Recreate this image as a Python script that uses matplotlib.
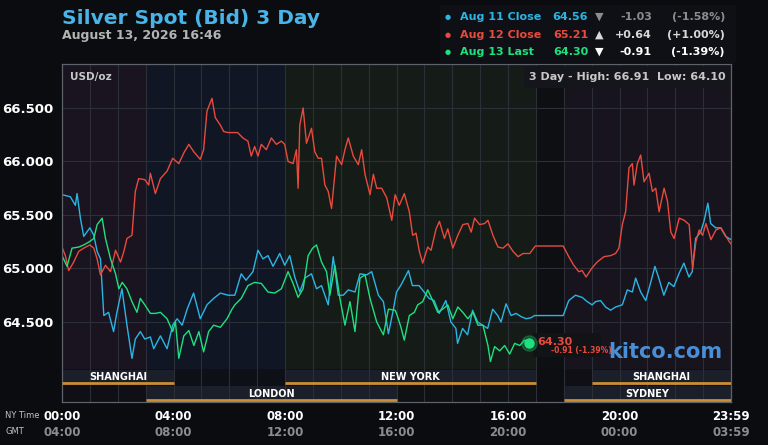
import matplotlib
matplotlib.use("Agg")
import matplotlib.pyplot as plt
from matplotlib.patches import Rectangle

# ---- data (NY time in hours, price in USD/oz) ----
aug11_hours = [0, 0.3, 0.48, 0.54, 0.66, 0.78, 1.0, 1.14, 1.26, 1.38, 1.5, 1.67, 1.85, 1.97,
               2.15, 2.33, 2.51, 2.63, 2.81, 2.97, 3.17, 3.29, 3.53, 3.77, 3.97, 4.13, 4.31,
               4.49, 4.72, 4.96, 5.2, 5.44, 5.68, 5.96, 6.2, 6.43, 6.6, 6.85, 7.03, 7.21, 7.39,
               7.57, 7.81, 7.99, 8.17, 8.35, 8.53, 8.71, 8.95, 9.13, 9.31, 9.55, 9.73, 9.91,
               10.09, 10.27, 10.51, 10.69, 10.93, 11.11, 11.35, 11.53, 11.71, 11.89, 12.0,
               12.15, 12.43, 12.57, 12.81, 12.99, 13.17, 13.35, 13.53, 13.77, 13.95, 14.13,
               14.19, 14.37, 14.55, 14.73, 14.91, 15.09, 15.27, 15.45, 15.63, 15.75, 15.93,
               16.11, 16.29, 16.47, 16.65, 16.83, 16.95, 17.98, 18.18, 18.42, 18.66, 18.84,
               19.02, 19.14, 19.32, 19.5, 19.68, 19.86, 20.1, 20.28, 20.46, 20.58, 20.76,
               20.94, 21.12, 21.27, 21.41, 21.59, 21.77, 21.95, 22.13, 22.31, 22.49, 22.61,
               22.73, 22.91, 23.03, 23.17, 23.27, 23.45, 23.63, 23.81, 23.93, 24.0]
aug11_price = [65.69, 65.67, 65.59, 65.70, 65.47, 65.30, 65.38, 65.31, 65.16, 65.09, 64.56, 64.59,
               64.41, 64.59, 64.81, 64.47, 64.16, 64.34, 64.41, 64.34, 64.36, 64.25, 64.37, 64.25,
               64.47, 64.53, 64.47, 64.62, 64.77, 64.53, 64.66, 64.72, 64.77, 64.75, 64.75, 64.95,
               64.89, 64.97, 65.17, 65.09, 65.12, 65.02, 65.14, 65.03, 65.12, 64.92, 64.78, 64.91,
               64.95, 64.81, 64.84, 64.66, 65.11, 64.75, 64.75, 64.80, 64.78, 64.95, 64.94, 64.97,
               64.75, 64.69, 64.39, 64.62, 64.78, 64.84, 64.98, 64.84, 64.84, 64.78, 64.72, 64.70,
               64.58, 64.70, 64.50, 64.44, 64.30, 64.44, 64.38, 64.61, 64.50, 64.47, 64.44, 64.62,
               64.56, 64.50, 64.67, 64.56, 64.58, 64.55, 64.53, 64.54, 64.56, 64.56, 64.70, 64.75,
               64.73, 64.69, 64.66, 64.69, 64.70, 64.64, 64.61, 64.64, 64.66, 64.80, 64.78, 64.91,
               64.78, 64.70, 64.87, 65.02, 64.91, 64.75, 64.87, 64.83, 64.95, 65.05, 64.92, 64.97,
               65.28, 65.34, 65.44, 65.61, 65.42, 65.38, 65.38, 65.30, 65.28, 65.27]

aug12_hours = [0, 0.12, 0.24, 0.42, 0.6, 0.78, 1.0, 1.14, 1.26, 1.38, 1.56, 1.74, 1.92, 2.1, 2.22,
               2.33, 2.51, 2.63, 2.75, 2.97, 3.11, 3.17, 3.35, 3.53, 3.77, 3.97, 4.19, 4.37, 4.55,
               4.73, 4.96, 5.08, 5.2, 5.38, 5.5, 5.68, 5.8, 5.96, 6.3, 6.49, 6.67, 6.79, 6.91,
               7.03, 7.15, 7.33, 7.51, 7.69, 7.87, 7.99, 8.11, 8.29, 8.41, 8.47, 8.53, 8.65, 8.77,
               8.95, 9.07, 9.19, 9.31, 9.43, 9.55, 9.67, 9.85, 10.03, 10.15, 10.27, 10.45, 10.63,
               10.75, 10.87, 11.05, 11.17, 11.29, 11.47, 11.65, 11.83, 11.95, 12.1, 12.28, 12.46,
               12.58, 12.7, 12.82, 12.94, 13.12, 13.24, 13.42, 13.54, 13.72, 13.84, 14.02, 14.2,
               14.38, 14.56, 14.68, 14.8, 14.98, 15.16, 15.28, 15.46, 15.64, 15.82, 16.0, 16.18,
               16.36, 16.54, 16.78, 16.98, 17.98, 18.18, 18.36, 18.54, 18.66, 18.8, 19.0, 19.2,
               19.44, 19.68, 19.86, 19.98, 20.1, 20.22, 20.34, 20.46, 20.52, 20.64, 20.76, 20.88,
               21.06, 21.18, 21.3, 21.42, 21.6, 21.72, 21.84, 21.96, 22.14, 22.32, 22.5, 22.62,
               22.74, 22.86, 22.98, 23.1, 23.28, 23.46, 23.64, 23.82, 23.94, 24.0]
aug12_price = [65.20, 65.12, 64.98, 65.06, 65.16, 65.19, 65.22, 65.19, 65.09, 64.94, 65.03, 64.97,
               65.17, 65.06, 65.16, 65.28, 65.31, 65.72, 65.84, 65.83, 65.78, 65.89, 65.70, 65.84,
               65.91, 66.03, 65.98, 66.08, 66.16, 66.09, 66.02, 66.11, 66.47, 66.59, 66.41, 66.34,
               66.28, 66.27, 66.27, 66.22, 66.19, 66.05, 66.14, 66.05, 66.16, 66.11, 66.22, 66.16,
               66.19, 66.16, 66.00, 65.98, 66.11, 65.75, 66.34, 66.50, 66.17, 66.31, 66.09, 66.03,
               66.03, 65.78, 65.72, 65.56, 66.05, 65.97, 66.11, 66.22, 66.05, 65.97, 66.11, 65.88,
               65.69, 65.88, 65.75, 65.75, 65.66, 65.45, 65.69, 65.59, 65.70, 65.53, 65.31, 65.33,
               65.16, 65.05, 65.20, 65.17, 65.37, 65.44, 65.28, 65.37, 65.19, 65.31, 65.41, 65.42,
               65.34, 65.47, 65.41, 65.42, 65.45, 65.31, 65.20, 65.19, 65.23, 65.16, 65.11, 65.14,
               65.14, 65.21, 65.21, 65.11, 65.03, 64.97, 64.98, 64.92, 65.00, 65.06, 65.11, 65.12,
               65.14, 65.19, 65.41, 65.53, 65.94, 65.98, 65.78, 65.98, 66.06, 65.81, 65.89, 65.72,
               65.75, 65.53, 65.75, 65.63, 65.34, 65.28, 65.47, 65.45, 65.41, 65.00, 65.25, 65.36,
               65.31, 65.42, 65.27, 65.36, 65.38, 65.30, 65.25, 65.23]

aug13_hours = [0, 0.18, 0.36, 0.6, 0.78, 0.98, 1.14, 1.26, 1.44, 1.56, 1.74, 1.92, 2.04, 2.16,
               2.33, 2.51, 2.69, 2.81, 2.97, 3.17, 3.35, 3.53, 3.77, 3.97, 4.07, 4.19, 4.37, 4.55,
               4.73, 4.91, 5.08, 5.26, 5.44, 5.68, 5.92, 6.1, 6.2, 6.43, 6.67, 6.91, 7.15, 7.39,
               7.63, 7.87, 8.11, 8.29, 8.47, 8.65, 8.83, 8.99, 9.13, 9.31, 9.49, 9.61, 9.79, 9.97,
               10.15, 10.33, 10.51, 10.69, 10.87, 11.05, 11.29, 11.53, 11.71, 11.95, 12.0, 12.16,
               12.28, 12.46, 12.64, 12.76, 12.94, 13.12, 13.3, 13.48, 13.66, 13.84, 14.02, 14.2,
               14.38, 14.56, 14.74, 14.92, 15.1, 15.28, 15.37, 15.52, 15.7, 15.88, 16.06, 16.24,
               16.42, 16.6, 16.77]
aug13_price = [65.12, 65.02, 65.19, 65.20, 65.22, 65.25, 65.28, 65.41, 65.47, 65.28, 65.09, 64.95,
               64.81, 64.87, 64.81, 64.69, 64.59, 64.72, 64.66, 64.58, 64.58, 64.59, 64.53, 64.41,
               64.50, 64.16, 64.37, 64.42, 64.28, 64.41, 64.22, 64.41, 64.47, 64.45, 64.53, 64.62,
               64.66, 64.72, 64.84, 64.87, 64.86, 64.78, 64.77, 64.81, 64.97, 64.86, 64.73, 64.81,
               65.12, 65.19, 65.22, 65.06, 64.97, 64.75, 65.03, 64.72, 64.47, 64.69, 64.41, 64.91,
               64.94, 64.72, 64.50, 64.38, 64.62, 64.61, 64.58, 64.45, 64.33, 64.56, 64.59, 64.66,
               64.69, 64.80, 64.70, 64.59, 64.62, 64.66, 64.53, 64.64, 64.59, 64.53, 64.59, 64.47,
               64.47, 64.28, 64.13, 64.27, 64.23, 64.28, 64.20, 64.30, 64.28, 64.33, 64.30]

legend_names = ["Aug 11 Close", "Aug 12 Close", "Aug 13 Last"]
legend_prices = ["64.56", "65.21", "64.30"]
legend_arrows = ["▼", "▲", "▼"]
legend_changes = ["-1.03", "+0.64", "-0.91"]
legend_pcts = ["(-1.58%)", "(+1.00%)", "(-1.39%)"]

y_ticks = [64.5, 65.0, 65.5, 66.0, 66.5]
ny_labels = ["00:00", "04:00", "08:00", "12:00", "16:00", "20:00", "23:59"]
gmt_labels = ["04:00", "08:00", "12:00", "16:00", "20:00", "00:00", "03:59"]
label_hours = [0, 4, 8, 12, 16, 20, 24]

# background tint per market period
tint_start = [0, 3, 8, 17, 18]
tint_end = [3, 8, 17, 18, 24]
tint_colors = ["#19141f", "#111624", "#151b16", "#0e0f12", "#18141e"]

session_names = ["SHANGHAI", "NEW YORK", "SHANGHAI", "LONDON", "SYDNEY"]
session_start = [0, 8, 19, 3, 18]
session_end = [4, 17, 24, 12, 24]
session_row = [0, 0, 0, 1, 1]

BG = "#0b0c10"
BLUE = "#2bb5e4"
RED = "#e84a3e"
GREEN = "#1fe07e"
W, H = 768, 445


def fx(px):
    return px / W


def fy(py):
    return 1 - py / H


fig = plt.figure(figsize=(7.68, 4.45), dpi=100, facecolor=BG)
ax = fig.add_axes([fx(62), fy(402), 669 / W, 338 / H])
ax.set_facecolor(BG)
ax.set_xlim(0, 24)
ax.set_ylim(63.752, 66.911)

for s, e, c in zip(tint_start, tint_end, tint_colors):
    ax.axvspan(s, e, color=c, zorder=0.1, lw=0)

# session rows at the bottom
xform = ax.get_xaxis_transform()
ax.add_patch(Rectangle((0, 0), 24, 0.098, transform=xform, color="#0d0e13",
                       alpha=0.75, zorder=0.2, lw=0))
row_y = [0.051, 0.003]
for name, s, e, r in zip(session_names, session_start, session_end, session_row):
    y0 = row_y[r]
    ax.add_patch(Rectangle((s, y0), e - s, 0.044, transform=xform, color="#1b1f2a",
                           zorder=0.3, lw=0))
    ax.plot([s, e], [y0 + 0.004, y0 + 0.004], transform=xform, color="#c98f32", lw=2,
            solid_capstyle="butt", zorder=3)
    ax.text((s + e) / 2, y0 + 0.022, name, transform=xform, ha="center", va="center",
            color="white", fontsize=7, fontweight="bold", zorder=4)

ax.set_axisbelow(True)
ax.set_xticks(range(0, 25))
ax.set_yticks(y_ticks)
ax.grid(True, color="#2c2f37", lw=0.8)
ax.tick_params(axis="x", length=0, labelbottom=False)
ax.tick_params(axis="y", length=0, pad=6, labelcolor="white", labelsize=9.5)
ax.set_yticklabels([f"{v:.3f}" for v in y_ticks], fontweight="bold")
for sp in ax.spines.values():
    sp.set_color("#5e626b")
    sp.set_linewidth(0.9)

ax.plot(aug11_hours, aug11_price, color=BLUE, lw=1.0, zorder=2)
ax.plot(aug12_hours, aug12_price, color=RED, lw=1.0, zorder=2)
ax.plot(aug13_hours, aug13_price, color=GREEN, lw=1.0, zorder=2.5)

# last price marker
last_t, last_v = aug13_hours[-1], aug13_price[-1]
ax.plot(last_t, last_v, "o", color=GREEN, ms=11, alpha=0.25, zorder=3)
ax.plot(last_t, last_v, "o", color=GREEN, ms=6.5, zorder=3)
ax.add_patch(Rectangle((fx(533), fy(357)), 68 / W, 24 / H, transform=fig.transFigure,
                       color="#121317", zorder=2.8, lw=0))
fig.text(fx(537), fy(342), "64.30", color=RED, fontsize=8, fontweight="bold", va="center")
fig.text(fx(551), fy(351), "-0.91 (-1.39%)", color=RED, fontsize=5.5, fontweight="bold",
         va="center")
fig.text(fx(722), fy(352), "kitco.com", color="#4a8fd6", fontsize=15, fontweight="bold",
         ha="right", va="center")

ax.text(fx(70), fy(77), "USD/oz", transform=fig.transFigure, color="#c8c8c8", fontsize=7.5,
        fontweight="bold", va="center")
ax.add_patch(Rectangle((fx(524), fy(88)), 206 / W, 22 / H, transform=fig.transFigure,
                       color="#15161b", zorder=3, lw=0))
fig.text(fx(726), fy(77), "3 Day - High: 66.91  Low: 64.10", color="#c8c8c8", fontsize=8,
         fontweight="bold", ha="right", va="center")

# bottom time labels
for h, ny, gmt in zip(label_hours, ny_labels, gmt_labels):
    xp = 62 + h * 669 / 24
    fig.text(fx(xp), fy(417), ny, color="white", fontsize=8.5, fontweight="bold",
             ha="center", va="center")
    fig.text(fx(xp), fy(433), gmt, color="#8a8c90", fontsize=8.5, fontweight="bold",
             ha="center", va="center")
fig.text(fx(5), fy(415), "NY Time", color="#c0c0c0", fontsize=6, va="center")
fig.text(fx(5), fy(432), "GMT", color="#c0c0c0", fontsize=6, va="center")

# title block
fig.text(fx(62), fy(18), "Silver Spot (Bid) 3 Day", color="#48b4e8", fontsize=14.5,
         fontweight="bold", va="center")
fig.text(fx(62), fy(36), "August 13, 2026 16:46", color="#b4b4b4", fontsize=9,
         fontweight="bold", va="center")

# legend box
fig.patches.append(Rectangle((fx(440), fy(62)), 295 / W, 57 / H, transform=fig.transFigure,
                             color="#0f1015", zorder=0))
leg_colors = [BLUE, RED, GREEN]
chg_colors = ["#8a8c90", "#d8d8d8", "white"]
for i in range(3):
    yp = 17 + i * 17.5
    fig.text(fx(448), fy(yp), "●", color=leg_colors[i], fontsize=5, ha="center", va="center")
    fig.text(fx(460), fy(yp), legend_names[i], color=leg_colors[i], fontsize=8,
             fontweight="bold", va="center")
    fig.text(fx(588), fy(yp), legend_prices[i], color=leg_colors[i], fontsize=8,
             fontweight="bold", ha="right", va="center")
    fig.text(fx(599), fy(yp), legend_arrows[i], color=chg_colors[i],
             fontsize=8, ha="center", va="center")
    fig.text(fx(652), fy(yp), legend_changes[i], color=chg_colors[i], fontsize=8,
             fontweight="bold", ha="right", va="center")
    fig.text(fx(725), fy(yp), legend_pcts[i], color=chg_colors[i], fontsize=8,
             fontweight="bold", ha="right", va="center")

fig.savefig("out.png", dpi=100, facecolor=BG)
